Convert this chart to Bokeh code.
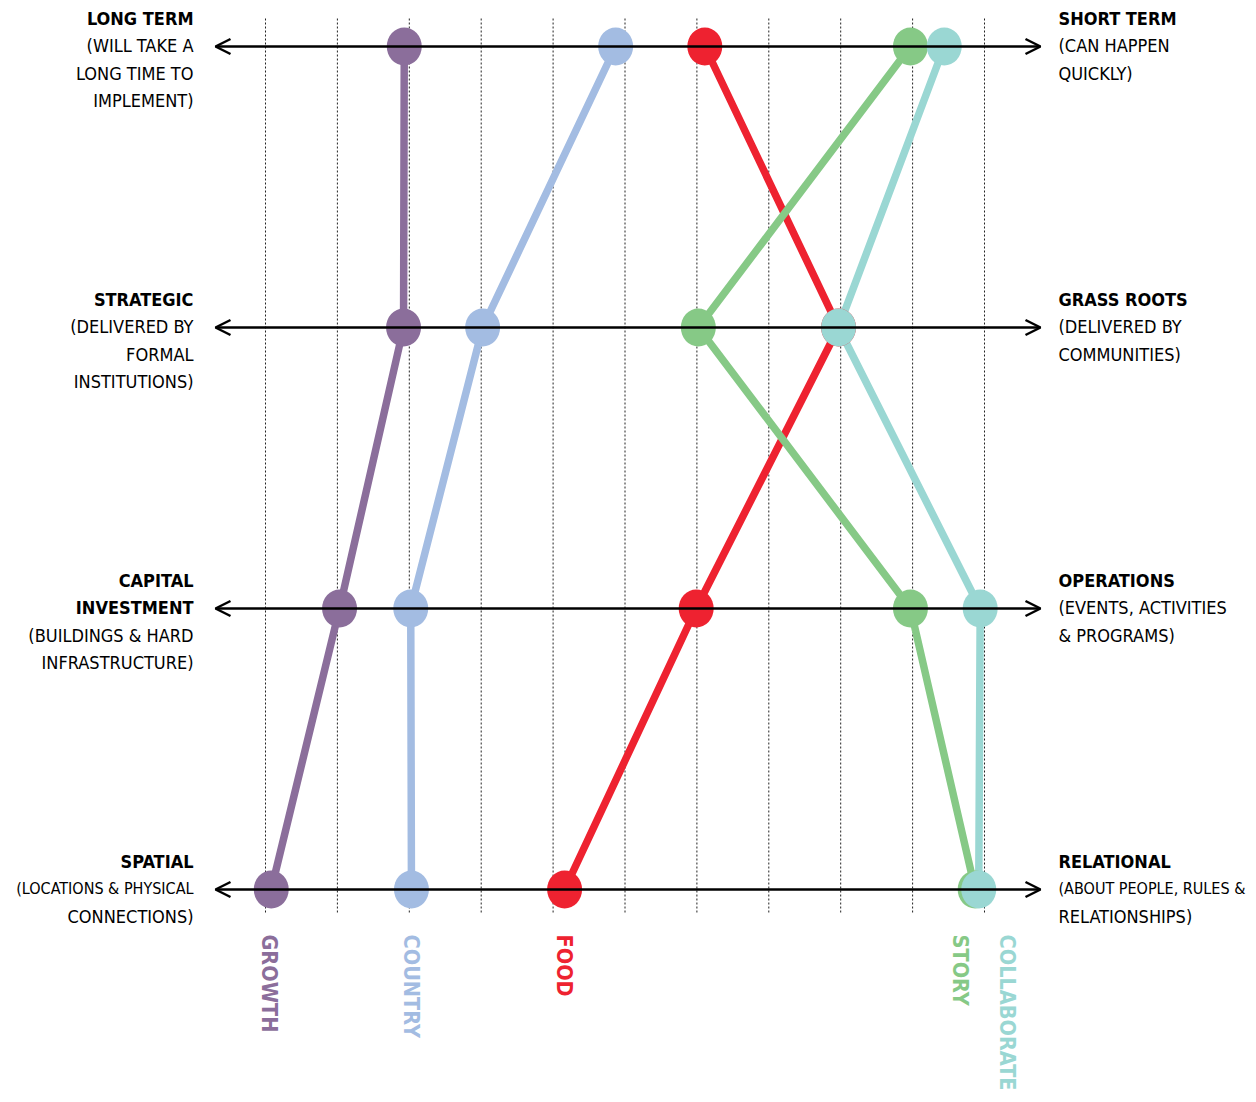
import numpy as np
from bokeh.plotting import figure
from bokeh.models import Arrow, OpenHead, ColumnDataSource
from bokeh.core.properties import value
from bokeh.embed import file_html
from bokeh.resources import INLINE

# ---- data ----
rows = ["LONG/SHORT TERM", "STRATEGIC/GRASS ROOTS", "CAPITAL/OPERATIONS", "SPATIAL/RELATIONAL"]
row_y = [3, 2, 1, 0]

series = ["GROWTH", "COUNTRY", "FOOD", "STORY", "COLLABORATE"]
colors = ["#8B6E9B", "#A3BCE2", "#EE2230", "#86C986", "#9AD7D3"]
growth = [1.93, 1.92, 1.03, 0.08]
country = [4.87, 3.02, 2.02, 2.03]
food = [6.11, 7.97, 5.99, 4.16]
story = [8.97, 6.02, 8.97, 9.87]
collaborate = [9.44, 7.97, 9.94, 9.92]
values = [growth, country, food, story, collaborate]
label_dx = [-2, 0, 0, -15, 29]   # screen offsets of the series names

grid_x = list(range(0, 11))

left_titles = [["LONG TERM"], ["STRATEGIC"], ["CAPITAL", "INVESTMENT"], ["SPATIAL"]]
left_notes = [["(WILL TAKE A", "LONG TIME TO", "IMPLEMENT)"],
              ["(DELIVERED BY", "FORMAL", "INSTITUTIONS)"],
              ["(BUILDINGS & HARD", "INFRASTRUCTURE)"],
              ["(LOCATIONS & PHYSICAL", "CONNECTIONS)"]]
right_titles = [["SHORT TERM"], ["GRASS ROOTS"], ["OPERATIONS"], ["RELATIONAL"]]
right_notes = [["(CAN HAPPEN", "QUICKLY)"],
               ["(DELIVERED BY", "COMMUNITIES)"],
               ["(EVENTS, ACTIVITIES", "& PROGRAMS)"],
               ["(ABOUT PEOPLE, RULES &", "RELATIONSHIPS)"]]

# ---- layout constants ----
PX = 71.9          # pixels per x unit
X0 = 265           # pixel of x = 0
W, H = 1248, 1094
x_lo = (0 - X0) / PX
x_hi = (W - X0) / PX
YPX = 281
y_hi = 3 + 46 / YPX
y_lo = 0 - (H - 889) / YPX

FONT = "'DejaVu Sans Condensed', 'Liberation Sans Narrow', 'Roboto', sans-serif"
SIDE_FS = 18
LONG_FS = 16      # the very long side lines
MAX_CHARS = 20

p = figure(width=W, height=H, x_range=(x_lo, x_hi), y_range=(y_lo, y_hi),
           output_backend="svg", toolbar_location=None, min_border=0)
p.axis.visible = False
p.grid.visible = False
p.outline_line_color = None
p.background_fill_color = "white"

# dotted vertical guides
p.segment(x0=grid_x, x1=grid_x, y0=[3 + 28 / YPX] * len(grid_x), y1=[-23 / YPX] * len(grid_x),
          line_color="#222222", line_width=1, line_dash="2 2")

# double arrows
a_start = (215 - X0) / PX
a_end = (1040 - X0) / PX
for yv in row_y:
    p.add_layout(Arrow(x_start=a_start, x_end=a_end, y_start=yv, y_end=yv,
                       line_color="black", line_width=2.5,
                       start=OpenHead(size=15, line_width=2.5, line_color="black"),
                       end=OpenHead(size=15, line_width=2.5, line_color="black")))

# series lines
for vals, c in zip(values, colors):
    p.line(vals, row_y, line_color=c, line_width=7.5, line_join="round")
# dots
for vals, c in zip(values, colors):
    p.ellipse(x=vals, y=row_y, width=35, height=38, width_units="screen",
              height_units="screen", fill_color=c, line_color=None)

# row labels
def add_block(titles, notes, x, align):
    recs = []
    for yv, t, n in zip(row_y, titles, notes):
        lines = t + n
        for i, s in enumerate(lines):
            fs = LONG_FS if len(s) > MAX_CHARS else SIDE_FS
            recs.append((x, yv, -28 + 27.3 * i, s, i < len(t), f"{fs}px"))
    for flag, style in [(True, "bold"), (False, "normal")]:
        sel = [r for r in recs if r[4] == flag]
        src = ColumnDataSource(dict(x=[r[0] for r in sel], y=[r[1] for r in sel],
                                    yo=[r[2] for r in sel], t=[r[3] for r in sel],
                                    fs=[r[5] for r in sel]))
        p.text(x="x", y="y", text="t", y_offset="yo", source=src, text_align=align,
               text_baseline="middle", text_font=value(FONT), text_font_size="fs",
               text_font_style=style, text_color="black")

add_block(left_titles, left_notes, (193 - X0) / PX, "right")
add_block(right_titles, right_notes, (1058 - X0) / PX, "left")

# series names, rotated
for name, vals, c, dx in zip(series, values, colors, label_dx):
    p.text(x=[vals[-1]], y=[0], text=[name], angle=-np.pi / 2, x_offset=dx, y_offset=45,
           text_align="left", text_baseline="middle", text_font=value(FONT),
           text_font_size="21.5px", text_font_style="bold", text_color=c)

open("out.html", "w").write(file_html(p, INLINE))
